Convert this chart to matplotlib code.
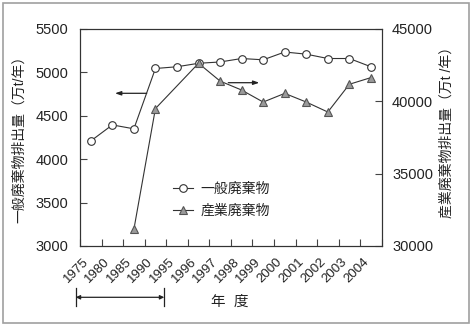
import numpy as np
import matplotlib
matplotlib.use("Agg")
import matplotlib.pyplot as plt
from matplotlib.lines import Line2D
from matplotlib.patches import Rectangle, FancyArrowPatch

plt.rcParams['font.family'] = ['Liberation Sans', 'Noto Sans CJK JP', 'DejaVu Sans']

years = ['1975', '1980', '1985', '1990', '1995', '1996', '1997', '1998',
         '1999', '2000', '2001', '2002', '2003', '2004']
general_waste = [4210, 4395, 4350, 5045, 5065, 5105, 5120, 5160, 5145,
                 5235, 5210, 5160, 5160, 5065]
industrial_waste = [np.nan, np.nan, 31150, 39500, np.nan, 42630, 41400, 40780,
                    39950, 40550, 39950, 39260, 41180, 41640]
left_ticks = [3000, 3500, 4000, 4500, 5000, 5500]
right_ticks = [30000, 35000, 40000, 45000]

W, H = 471, 329
fig = plt.figure(figsize=(W / 100, H / 100), dpi=100)
ax_l, ax_r, ax_t, ax_b = 80, 381.7, 29, 246
ax = fig.add_axes([ax_l / W, 1 - ax_b / H, (ax_r - ax_l) / W, (ax_b - ax_t) / H])
ax2 = ax.twinx()

x = np.arange(len(years))
ind = np.array(industrial_waste, dtype=float)
valid = ~np.isnan(ind)

line_c = '#333333'
h1, = ax.plot(x, general_waste, color=line_c, lw=0.8, marker='o', ms=5.5,
              mfc='white', mec='#333333', mew=0.8, label='一般廃棄物', zorder=3)
h2, = ax2.plot(x[valid], ind[valid], color=line_c, lw=0.8, marker='^', ms=6,
               mfc='#9a9a9a', mec='#555555', mew=0.8, label='産業廃棄物', zorder=3)

ax.set_xlim(-0.5, len(years) - 0.5)
ax.set_ylim(3000, 5500)
ax2.set_ylim(30000, 45000)

ax.set_yticks(left_ticks)
ax2.set_yticks(right_ticks)
ax.set_xticks(x)
ax.set_xticklabels(years, rotation=45, ha='right', va='top', fontsize=9.5,
                   color='#222222')
ax.set_xticks(np.arange(len(years) + 1) - 0.5, minor=True)
ax.tick_params(axis='x', which='major', length=0, pad=7)
ax.tick_params(axis='x', which='minor', length=5, direction='in', width=0.8,
               color='#444444')
ax.tick_params(axis='y', length=5, direction='in', width=0.8, labelsize=10.5,
               pad=8.5, color='#444444', labelcolor='#222222')
ax2.tick_params(axis='y', length=5, direction='in', width=0.8, labelsize=10.5,
                pad=7.5, color='#444444', labelcolor='#222222')
for a in (ax, ax2):
    for s in a.spines.values():
        s.set_linewidth(0.8)
        s.set_color('#333333')

# y labels
fig.text(19 / W, 1 - 136 / H, '一般廃棄物排出量（万t/年）', rotation=90,
         ha='center', va='center', fontsize=10, color='#222222')
fig.text(447 / W, 1 - 129 / H, '産業廃棄物排出量（万t /年）', rotation=90,
         ha='center', va='center', fontsize=10, color='#222222')

# legend
leg = ax2.legend(handles=[h1, h2], loc='center left',
                 bbox_to_anchor=(173 / W, 1 - 200 / H),
                 bbox_transform=fig.transFigure, frameon=False, fontsize=10,
                 handlelength=1.45, handletextpad=0.5, labelspacing=0.55,
                 borderpad=0, borderaxespad=0)
for t in leg.get_texts():
    t.set_color('#222222')

# direction arrows
def axfrac(px, py):
    return ((px - ax_l) / (ax_r - ax_l), (ax_b - py) / (ax_b - ax_t))

ax.annotate('', xy=axfrac(115, 93.3), xytext=axfrac(146.7, 93.3),
            xycoords='axes fraction', textcoords='axes fraction',
            arrowprops=dict(arrowstyle='-|>,head_length=0.35,head_width=0.12',
                            color='#222222', lw=0.9, shrinkA=0, shrinkB=0))
ax.annotate('', xy=axfrac(259.3, 82.7), xytext=axfrac(228.3, 82.7),
            xycoords='axes fraction', textcoords='axes fraction',
            arrowprops=dict(arrowstyle='-|>,head_length=0.35,head_width=0.12',
                            color='#222222', lw=0.9, shrinkA=0, shrinkB=0))

# bottom range arrow
bx0, bx1, by = 75.7, 164.3, 297.3
fig.add_artist(FancyArrowPatch(
    (bx0 / W, 1 - by / H), (bx1 / W, 1 - by / H), transform=fig.transFigure,
    arrowstyle='<|-|>,head_length=2.5,head_width=1.2', mutation_scale=1,
    color='#222222', lw=0.9, shrinkA=0, shrinkB=0))
for bx in (bx0, bx1):
    fig.add_artist(Line2D([bx / W, bx / W], [1 - 288 / H, 1 - 306 / H],
                          transform=fig.transFigure, color='#222222', lw=0.9))

fig.text(230 / W, 1 - 302 / H, '年  度', ha='center', va='center',
         fontsize=10.5, color='#222222')

# figure border
fig.add_artist(Rectangle((2.5 / W, 1 - 323 / H), (469 - 2.5) / W, (323 - 3) / H,
                         transform=fig.transFigure, fill=False,
                         edgecolor='#a0a0a0', lw=1.2))

fig.savefig('out.png', dpi=100)
